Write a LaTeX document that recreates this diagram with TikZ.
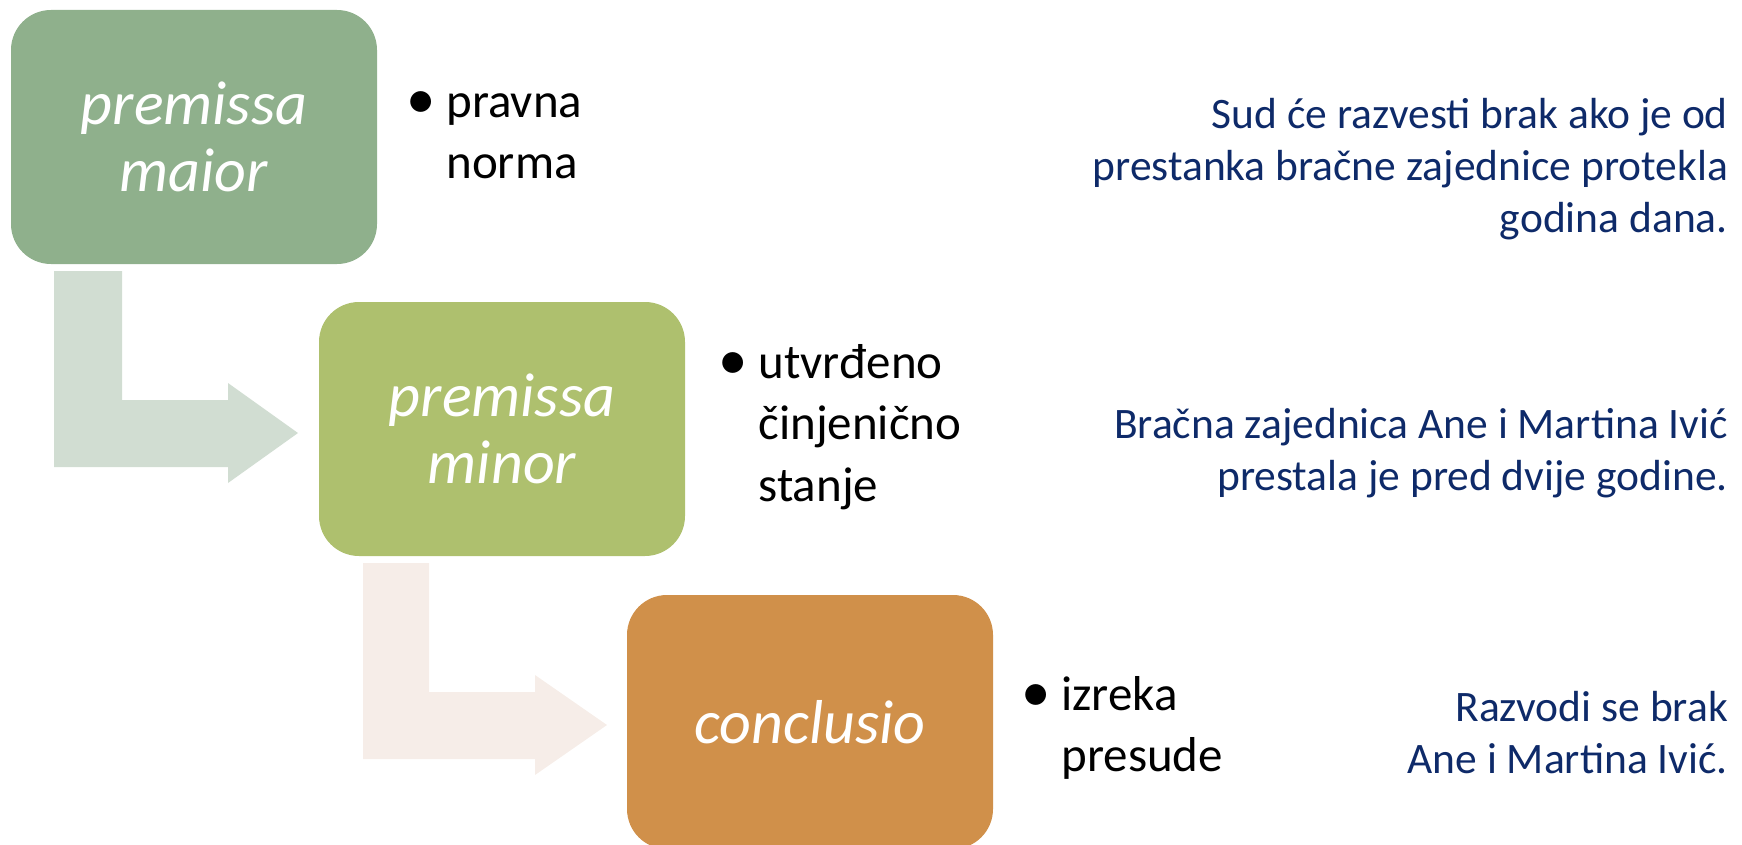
\documentclass[tikz,border=0pt]{standalone}
\usepackage{fontspec}
\usepackage{graphicx}
\setmainfont{Carlito}
\definecolor{boxA}{HTML}{8FB08C}
\definecolor{boxB}{HTML}{AEC06E}
\definecolor{boxC}{HTML}{D0904A}
\definecolor{arrA}{HTML}{D1DDD2}
\definecolor{arrB}{HTML}{F6EDE8}
\definecolor{navy}{HTML}{0E2A69}
\newcommand{\bul}{\makebox[40pt][l]{\raisebox{-1pt}{\scalebox{1.2}{\textbullet}}}}
\tikzset{
  stagebox/.style={rounded corners=40pt, minimum width=366pt, minimum height=254pt, inner sep=0pt,
    text=white, align=center, font=\fontsize{62}{67}\selectfont\itshape},
  bullist/.style={anchor=west, align=left, inner sep=0pt, text=black, font=\fontsize{49}{61.5}\selectfont},
  example/.style={anchor=east, align=right, inner sep=0pt, text=navy, font=\fontsize{43.5}{52}\selectfont},
}
\begin{document}
\begin{tikzpicture}[x=1pt,y=-1pt]
\useasboundingbox (0,0) rectangle (1742,845);
\clip (0,0) rectangle (1742,845);
% bent arrows
\fill[arrA] (54,271) -- (122,271) -- (122,400) -- (228,400) -- (228,383) -- (298,433)
  -- (228,483) -- (228,467) -- (54,467) -- cycle;
\fill[arrB] (363,563) -- (429,563) -- (429,692) -- (535,692) -- (535,675) -- (607,725)
  -- (535,775) -- (535,759) -- (363,759) -- cycle;
% boxes
\node[stagebox, fill=boxA] (b1) at (194,137) {premissa\\maior};
\node[stagebox, fill=boxB] (b2) at (502,429) {premissa\\minor};
\node[stagebox, fill=boxC] (b3) at (810,722) {conclusio};
% bullet lists
\node[bullist] (l1) at ([xshift=29pt,yshift=2pt]b1.east) {\bul pravna\\\hphantom{\bul}norma};
\node[bullist] (l2) at ([xshift=33pt,yshift=2pt]b2.east) {\bul utvrđeno\\\hphantom{\bul}činjenično\\\hphantom{\bul}stanje};
\node[bullist] (l3) at ([xshift=28pt,yshift=-6pt]b3.east) {\bul izreka\\\hphantom{\bul}presude};
% examples
\node[example] (e1) at (1728,169) {Sud će razvesti brak ako je od\\prestanka bračne zajednice protekla\\godina dana.};
\node[example] (e2) at (1728,453) {Bračna zajednica Ane i Martina Ivić\\prestala je pred dvije godine.};
\node[example] (e3) at (1728,733) {Razvodi se brak\\Ane i Martina Ivić.};
\end{tikzpicture}
\end{document}
